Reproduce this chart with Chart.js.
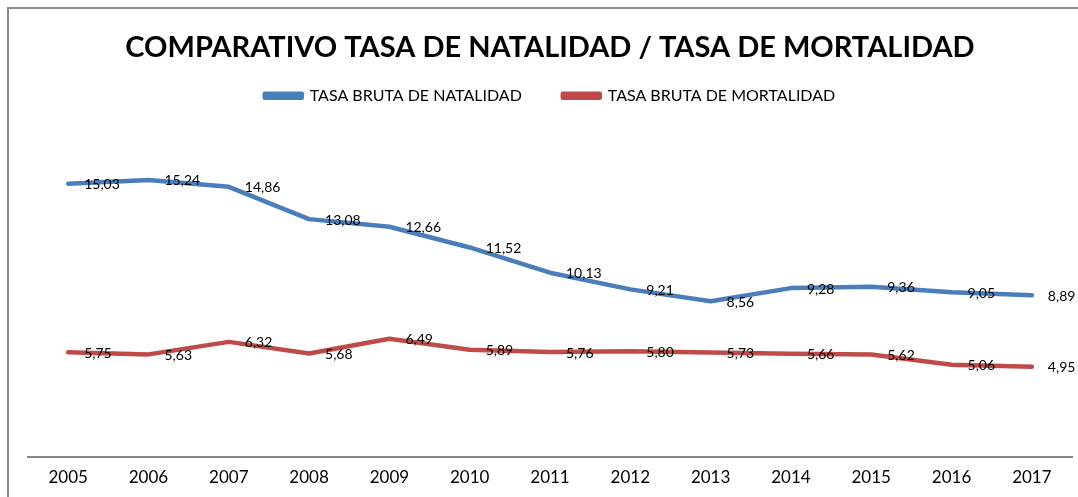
<!DOCTYPE html>
<html>
<head>
<meta charset="utf-8">
<script src="https://cdn.jsdelivr.net/npm/chart.js@4"></script>
<style>
  html, body { margin: 0; padding: 0; background: #fff; overflow: hidden; }
  #wrap { position: relative; width: 1078px; height: 497px; overflow: hidden; }
  #marco { position: absolute; left: 7px; top: 7px; width: 1200px; height: 600px; border: 2px solid #8a8a8a; box-sizing: border-box; }
  #lineChart { position: absolute; left: 0; top: 0; }
</style>
</head>
<body>
<div id="wrap">
  <div id="marco"></div>
  <canvas id="lineChart" width="1078" height="505"></canvas>
</div>
<script>
var anios = ['2005', '2006', '2007', '2008', '2009', '2010', '2011', '2012', '2013', '2014', '2015', '2016', '2017'];
var natalidad = [15.03, 15.24, 14.86, 13.08, 12.66, 11.52, 10.13, 9.21, 8.56, 9.28, 9.36, 9.05, 8.89];
var mortalidad = [5.75, 5.63, 6.32, 5.68, 6.49, 5.89, 5.76, 5.80, 5.73, 5.66, 5.62, 5.06, 4.95];

var fuente = 'Lato, "Open Sans", sans-serif';

// etiquetas de datos a la derecha de cada punto (coma decimal)
var etiquetas = {
    id: 'etiquetas',
    afterDatasetsDraw: function(chart) {
        var ctx = chart.ctx;
        ctx.save();
        ctx.font = '14px ' + fuente;
        ctx.fillStyle = '#000';
        ctx.textAlign = 'left';
        ctx.textBaseline = 'middle';
        chart.data.datasets.forEach(function(ds, i) {
            chart.getDatasetMeta(i).data.forEach(function(pt, j) {
                var txt = ds.data[j].toFixed(2).replace('.', ',');
                ctx.fillText(txt, pt.x + 16, pt.y + 1);
            });
        });
        ctx.restore();
    }
};

// espacio extra debajo de la leyenda
var margenLeyenda = {
    id: 'margenLeyenda',
    beforeInit: function(chart) {
        var fitOriginal = chart.legend.fit;
        chart.legend.fit = function() {
            fitOriginal.bind(chart.legend)();
            this.height += 16;
        };
    }
};

var ctx = document.getElementById('lineChart').getContext('2d');

var lineChart = new Chart(ctx, {
    type: 'line',
    data: {
        labels: anios,
        datasets: [{
            label: 'TASA BRUTA DE NATALIDAD',
            data: natalidad,
            borderColor: '#4A7EBB',
            backgroundColor: '#4A7EBB',
            borderWidth: 4.5,
            pointRadius: 0,
            tension: 0,
            borderJoinStyle: 'round',
            borderCapStyle: 'round'
        }, {
            label: 'TASA BRUTA DE MORTALIDAD',
            data: mortalidad,
            borderColor: '#BE4B48',
            backgroundColor: '#BE4B48',
            borderWidth: 4.5,
            pointRadius: 0,
            tension: 0,
            borderJoinStyle: 'round',
            borderCapStyle: 'round'
        }]
    },
    options: {
        responsive: false,
        animation: false,
        layout: {
            padding: { left: 28, right: 6, top: 30, bottom: 6 }
        },
        plugins: {
            title: {
                display: true,
                text: 'COMPARATIVO TASA DE NATALIDAD / TASA DE MORTALIDAD',
                color: '#000',
                font: { family: fuente, size: 29, weight: 'bold' },
                padding: { top: 0, bottom: -18 }
            },
            legend: {
                display: true,
                labels: {
                    color: '#000',
                    font: { family: fuente, size: 16 },
                    boxWidth: 37,
                    boxHeight: 4,
                    padding: 41
                }
            },
            tooltip: { enabled: false }
        },
        scales: {
            x: {
                offset: true,
                grid: { display: false, drawTicks: false },
                border: { display: true, color: '#868686', width: 2 },
                ticks: {
                    color: '#000',
                    font: { family: fuente, size: 17 },
                    padding: 11,
                    maxRotation: 0
                }
            },
            y: {
                display: false,
                min: 0,
                max: 18
            }
        }
    },
    plugins: [etiquetas, margenLeyenda]
});
</script>
</body>
</html>
